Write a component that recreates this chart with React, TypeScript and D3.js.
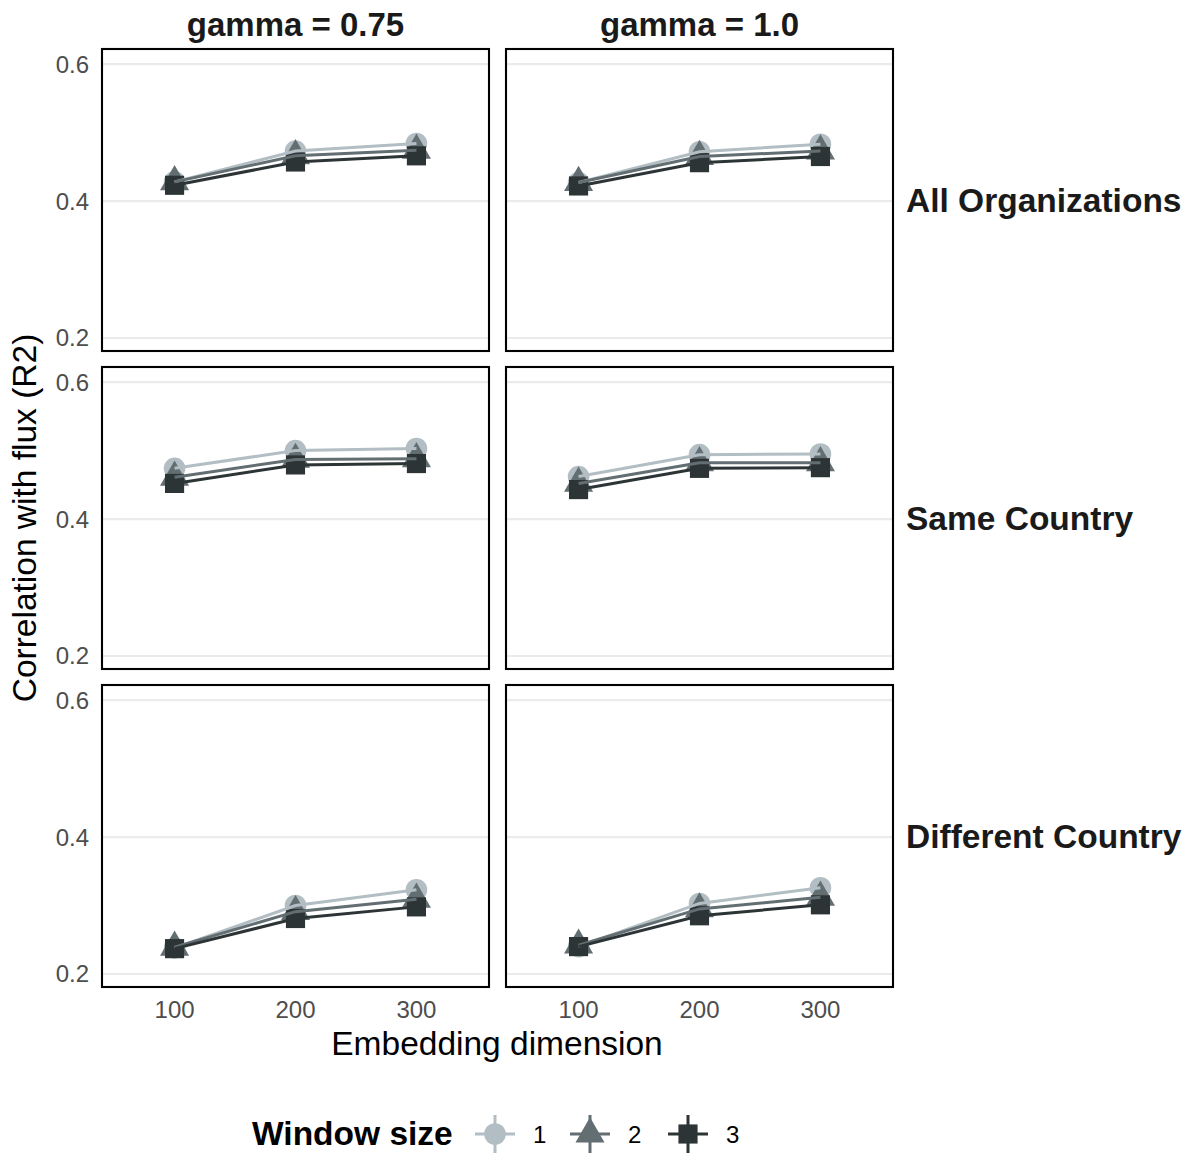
import React from "react";
import * as d3 from "d3";

// ---- data ----
const dims = [100, 200, 300];
const gammaLabels = ["gamma = 0.75", "gamma = 1.0"];
const subsetLabels = ["All Organizations", "Same Country", "Different Country"];
const windowSizes = ["1", "2", "3"];
const yTicks = [0.2, 0.4, 0.6];
const xTicks = [100, 200, 300];

// values per window size (1, 2, 3) at dims 100, 200, 300
const allOrgG075 = [
  [0.428, 0.473, 0.484],
  [0.428, 0.466, 0.474],
  [0.423, 0.457, 0.466],
];
const allOrgG100 = [
  [0.427, 0.472, 0.483],
  [0.427, 0.465, 0.473],
  [0.422, 0.456, 0.465],
];
const sameG075 = [
  [0.474, 0.5, 0.503],
  [0.461, 0.487, 0.488],
  [0.452, 0.479, 0.481],
];
const sameG100 = [
  [0.462, 0.494, 0.495],
  [0.452, 0.482, 0.482],
  [0.443, 0.474, 0.475],
];
const diffG075 = [
  [0.238, 0.3, 0.323],
  [0.239, 0.291, 0.309],
  [0.237, 0.281, 0.298],
];
const diffG100 = [
  [0.24, 0.303, 0.326],
  [0.242, 0.295, 0.312],
  [0.24, 0.285, 0.301],
];

const panels = [
  [allOrgG075, allOrgG100],
  [sameG075, sameG100],
  [diffG075, diffG100],
];

const colors = ["#b2bec3", "#636e72", "#2d3436"];

// ---- layout ----
const FONT = "'Liberation Sans', Arial, Helvetica, sans-serif";
const colX = [102, 506];
const rowY = [49, 367, 685];
const PW = 387;
const PH = 302;
const R = 10.8;

const x = d3.scaleLinear().domain([40, 360]).range([0, PW]);
const y = d3.scaleLinear().domain([0.181, 0.622]).range([PH, 0]);
const line = d3
  .line<number>()
  .x((_, i) => x(dims[i]))
  .y((d) => y(d));

function Marker({ shape, cx, cy, color }: { shape: number; cx: number; cy: number; color: string }) {
  if (shape === 0) return <circle cx={cx} cy={cy} r={R} fill={color} />;
  if (shape === 1) {
    const r = 1.5551 * R;
    const xc = 1.3468 * R;
    const yc = 0.7776 * R;
    return (
      <polygon
        points={`${cx},${cy - r} ${cx + xc},${cy + yc} ${cx - xc},${cy + yc}`}
        fill={color}
      />
    );
  }
  const h = 0.8862 * R;
  return <rect x={cx - h} y={cy - h} width={2 * h} height={2 * h} fill={color} />;
}

function Panel({ data, px, py }: { data: number[][]; px: number; py: number }) {
  return (
    <g transform={`translate(${px},${py})`}>
      {yTicks.map((t) => (
        <line key={t} x1={0} x2={PW} y1={y(t)} y2={y(t)} stroke="#ebebeb" strokeWidth={2.2} />
      ))}
      {data.map((series, si) =>
        series.map((v, i) => (
          <Marker key={`${si}-${i}`} shape={si} cx={x(dims[i])} cy={y(v)} color={colors[si]} />
        ))
      )}
      {data.map((series, si) => (
        <path key={si} d={line(series) || ""} fill="none" stroke={colors[si]} strokeWidth={3} />
      ))}
      <rect x={0} y={0} width={PW} height={PH} fill="none" stroke="#000" strokeWidth={2.1} />
    </g>
  );
}

export default function App() {
  return (
    <svg
      width={1189}
      height={1155}
      style={{ position: "absolute", left: 0, top: 0, background: "#fff" }}
      fontFamily={FONT}
    >
      <rect width={1189} height={1155} fill="#fff" />
      {panels.map((row, ri) =>
        row.map((data, ci) => <Panel key={`${ri}-${ci}`} data={data} px={colX[ci]} py={rowY[ri]} />)
      )}
      {/* column strips */}
      {gammaLabels.map((g, ci) => (
        <text
          key={g}
          x={colX[ci] + PW / 2}
          y={36}
          textAnchor="middle"
          fontSize={33}
          fontWeight="bold"
          fill="#1a1a1a"
        >
          {g}
        </text>
      ))}
      {/* row strips */}
      {subsetLabels.map((s, ri) => (
        <text key={s} x={906} y={rowY[ri] + PH / 2 + 12} fontSize={33.5} fontWeight="bold" fill="#1a1a1a">
          {s}
        </text>
      ))}
      {/* y tick labels */}
      {rowY.map((ry) =>
        yTicks.map((t) => (
          <text key={`${ry}-${t}`} x={89} y={ry + y(t) + 8.5} textAnchor="end" fontSize={24} fill="#4d4d4d">
            {t.toFixed(1)}
          </text>
        ))
      )}
      {/* x tick labels */}
      {colX.map((cx) =>
        xTicks.map((t) => (
          <text key={`${cx}-${t}`} x={cx + x(t)} y={1018} textAnchor="middle" fontSize={24} fill="#4d4d4d">
            {t}
          </text>
        ))
      )}
      {/* axis titles */}
      <text x={497} y={1055} textAnchor="middle" fontSize={33.5} fill="#000">
        Embedding dimension
      </text>
      <text
        transform={`translate(36,${(rowY[0] + rowY[2] + PH) / 2}) rotate(-90)`}
        textAnchor="middle"
        fontSize={33.5}
        fill="#000"
      >
        Correlation with flux (R2)
      </text>
      {/* legend */}
      <text x={252} y={1145} fontSize={33.5} fontWeight="bold" fill="#000">
        Window size
      </text>
      {windowSizes.map((w, i) => {
        const kx = [495, 590, 688][i];
        const ky = 1134;
        return (
          <g key={w}>
            <line x1={kx - 20} x2={kx + 20} y1={ky} y2={ky} stroke={colors[i]} strokeWidth={3} />
            <line x1={kx} x2={kx} y1={ky - 19} y2={ky + 19} stroke={colors[i]} strokeWidth={3} />
            <Marker shape={i} cx={kx} cy={ky} color={colors[i]} />
            <text x={kx + 38} y={ky + 8.5} fontSize={24} fill="#000">
              {w}
            </text>
          </g>
        );
      })}
    </svg>
  );
}
